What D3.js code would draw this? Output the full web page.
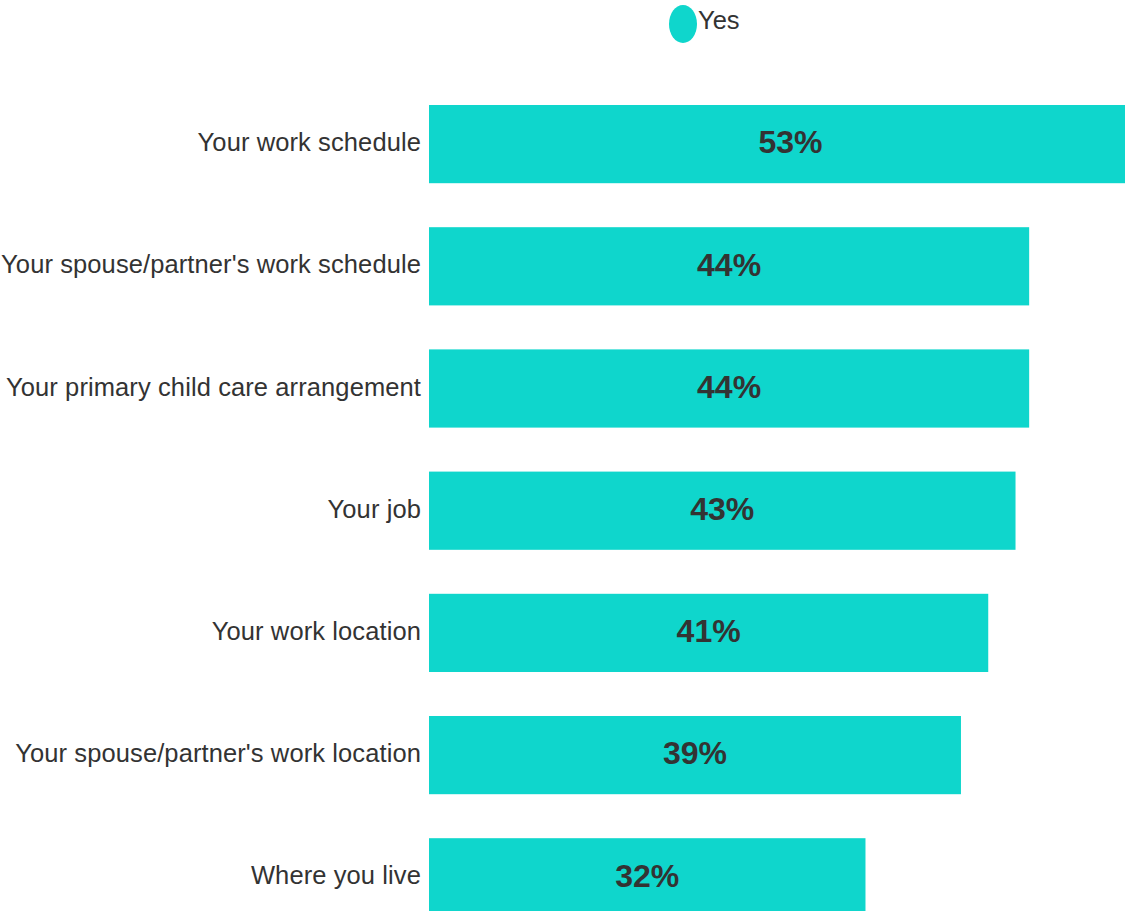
<!DOCTYPE html>
<html>
<head>
<meta charset="utf-8">
<script src="https://cdn.jsdelivr.net/npm/d3@7"></script>
<style>
  html, body { margin: 0; padding: 0; background: #ffffff; overflow: hidden; }
  svg { display: block; }
</style>
</head>
<body>
<svg id="chart" width="1125" height="911"></svg>
<script>
const categories = [
  "Your work schedule",
  "Your spouse/partner's work schedule",
  "Your primary child care arrangement",
  "Your job",
  "Your work location",
  "Your spouse/partner's work location",
  "Where you live"
];
const yesValues = [53, 44, 44, 43, 41, 39, 32];
const seriesName = "Yes";
const barColor = "#0fd6cc";
const textColor = "#333333";

const svg = d3.select("#chart");

const x = d3.scaleLinear().domain([0, 50]).range([429, 429 + 682]);
const y = d3.scaleBand()
  .domain(categories)
  .range([83, 83 + 7 * 122.2])
  .paddingInner(0.36)
  .paddingOuter(0.18);

const data = categories.map((c, i) => ({ cat: c, val: yesValues[i] }));

// Legend
const legend = svg.append("g");
legend.append("ellipse")
  .attr("cx", 683).attr("cy", 24).attr("rx", 14).attr("ry", 19)
  .attr("fill", barColor);
legend.append("text")
  .attr("x", 698).attr("y", 29)
  .attr("font-family", "Liberation Sans, Arial, sans-serif")
  .attr("font-size", 25.5)
  .attr("fill", textColor)
  .text(seriesName);

// Bars
svg.append("g").selectAll("rect")
  .data(data).join("rect")
  .attr("x", x(0))
  .attr("y", d => y(d.cat))
  .attr("width", d => x(d.val) - x(0))
  .attr("height", y.bandwidth())
  .attr("fill", barColor);

// Category labels
svg.append("g").selectAll("text")
  .data(data).join("text")
  .attr("x", 421)
  .attr("y", d => y(d.cat) + y.bandwidth() / 2)
  .attr("dy", "0.28em")
  .attr("text-anchor", "end")
  .attr("font-family", "Liberation Sans, Arial, sans-serif")
  .attr("font-size", 25.5)
  .attr("letter-spacing", "0.1px")
  .attr("fill", textColor)
  .text(d => d.cat);

// Value labels
svg.append("g").selectAll("text")
  .data(data).join("text")
  .attr("x", d => (x(0) + x(d.val)) / 2)
  .attr("y", d => y(d.cat) + y.bandwidth() / 2)
  .attr("dy", "0.29em")
  .attr("text-anchor", "middle")
  .attr("font-family", "Liberation Sans, Arial, sans-serif")
  .attr("font-size", 32)
  .attr("font-weight", "bold")
  .attr("fill", textColor)
  .text(d => d.val + "%");
</script>
</body>
</html>
